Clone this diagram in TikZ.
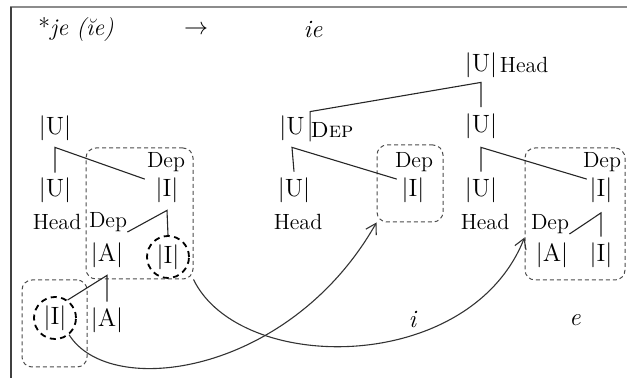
\documentclass[tikz,border=0pt]{standalone}
\usepackage{fontspec}
\usetikzlibrary{arrows.meta, positioning, fit}

\tikzset{
  el/.style={inner sep=0pt, font=\fontsize{12.5}{14}\selectfont},
  lab/.style={inner sep=0pt, font=\fontsize{11}{13}\selectfont},
  circ/.style={el, circle, draw, dash pattern=on 3pt off 2.2pt, line width=0.9pt, minimum size=21pt},
  dbox/.style={draw=black!70, dash pattern=on 2pt off 1.5pt, line width=0.5pt, rounded corners=5pt, inner sep=0pt},
  br/.style={draw=black!85, line width=0.55pt},
  mv/.style={->, >={Straight Barb[length=5pt,width=6pt]}, draw=black!80, line width=0.55pt}
}

\begin{document}
\begin{tikzpicture}[x=0.5pt, y=-0.5pt]
	\useasboundingbox (0,0) rectangle (627,378);
	\draw[black!45, line width=1pt] (10,7) -- (627,7);
	\draw[black!75, line width=0.6pt] (11,7) -- (11,378);
	
	% heading
	\node[lab, font=\fontsize{12}{14}\selectfont] (src) at (76,30) {*\textit{je (ĭe)}};
	\node[el] (arr) at (196,30) {$\rightarrow$};
	\node[lab, font=\fontsize{12.5}{14}\selectfont] (res) at (313,30) {\textit{ie}};
	
	% left tree
	\node[el] (u1) at (55,128) {|U|};
	\node[el] (u2) at (55,190) {|U|};
	\node[el] (i1) at (167,190) {|I|};
	\node[lab] (dep1) at (166,162) {Dep};
	\node[lab] (head1) at (57,222) {Head};
	\node[lab] (dep2) at (108,222) {Dep};
	\node[el] (a1) at (107,255) {|A|};
	\node[circ] (i2) at (168,257) {|I|};
	\node[circ] (i3) at (55,318) {|I|};
	\node[el] (a2) at (107,320) {|A|};
	
	% middle tree
	\node[el] (u0) at (481,65) {|U|};
	\node[lab] (head0) [right=1pt of u0] {Head};
	\node[el] (um) at (292,128) {|U};
	\node[lab] (depm) at (332,130) {\textsc{Dep}};
	\node[el] (um2) at (294,190) {|U|};
	\node[lab] (headm) at (298,222) {Head};
	\node[el] (im) at (413,190) {|I|};
	\node[lab] (depi) at (414,162) {Dep};
	
	% right tree
	\node[el] (ur) at (481,126) {|U|};
	\node[el] (ur2) at (481,190) {|U|};
	\node[lab] (headr) at (485,222) {Head};
	\node[el] (ir) at (601,190) {|I|};
	\node[lab] (depr) at (602,162) {Dep};
	\node[lab] (depr2) at (550,224) {Dep};
	\node[el] (ar) at (552,255) {|A|};
	\node[el] (ir2) at (601,255) {|I|};
	
	\node[lab, font=\fontsize{12.5}{14}\selectfont] (li) at (413,320) {\textit{i}};
	\node[lab, font=\fontsize{12.5}{14}\selectfont] (le) at (575,320) {\textit{e}};
	
	% dashed boxes
	\node[dbox, fit={(86,148) (193,279)}] (box1) {};
	\node[dbox, fit={(22,280) (87,367)}] (box2) {};
	\node[dbox, fit={(377,145) (443,222)}] (box3) {};
	\node[dbox, fit={(525,148) (625,280)}] (box4) {};
	
	% branches
	\draw[br] ([yshift=2.25pt]u2.north) -- ([yshift=-3.25pt]u1.south) -- ([shift={(-5.25pt,-1pt)}]i1.north west);
	\draw[br] (i2.north) -- ([yshift=-3.75pt]i1.south) -- (dep2.south east);
	\draw[br] ([yshift=2.75pt]a2.north) -- ([yshift=-3.75pt]a1.south) -- (i3.55);
	
	\draw[br] ([yshift=3pt]ur.north) -- ([yshift=-2.25pt]u0.south) -- ([shift={(2.5pt,1.75pt)}]um.north east) -- ([shift={(2.5pt,-0.25pt)}]um.south east);
	\draw[br] ([yshift=2.75pt]um2.north) -- ([yshift=-3.25pt]um.south) -- ([shift={(-2.25pt,-1pt)}]im.north west);
	
	\draw[br] ([yshift=2.75pt]ur2.north) -- ([yshift=-4.25pt]ur.south) -- ([shift={(-1.25pt,-1pt)}]ir.north west);
	\draw[br] ([yshift=2.75pt]ir2.north) -- ([yshift=-5pt]ir.south) -- (depr2.south east);
	
	% movements
	\draw[mv] (i3.-50) .. controls (110,400) and (290,375) .. (box3.south west);
	\draw[mv] (box1.south east) .. controls (240,375) and (470,375) .. (box4.205);
\end{tikzpicture}
\end{document}
